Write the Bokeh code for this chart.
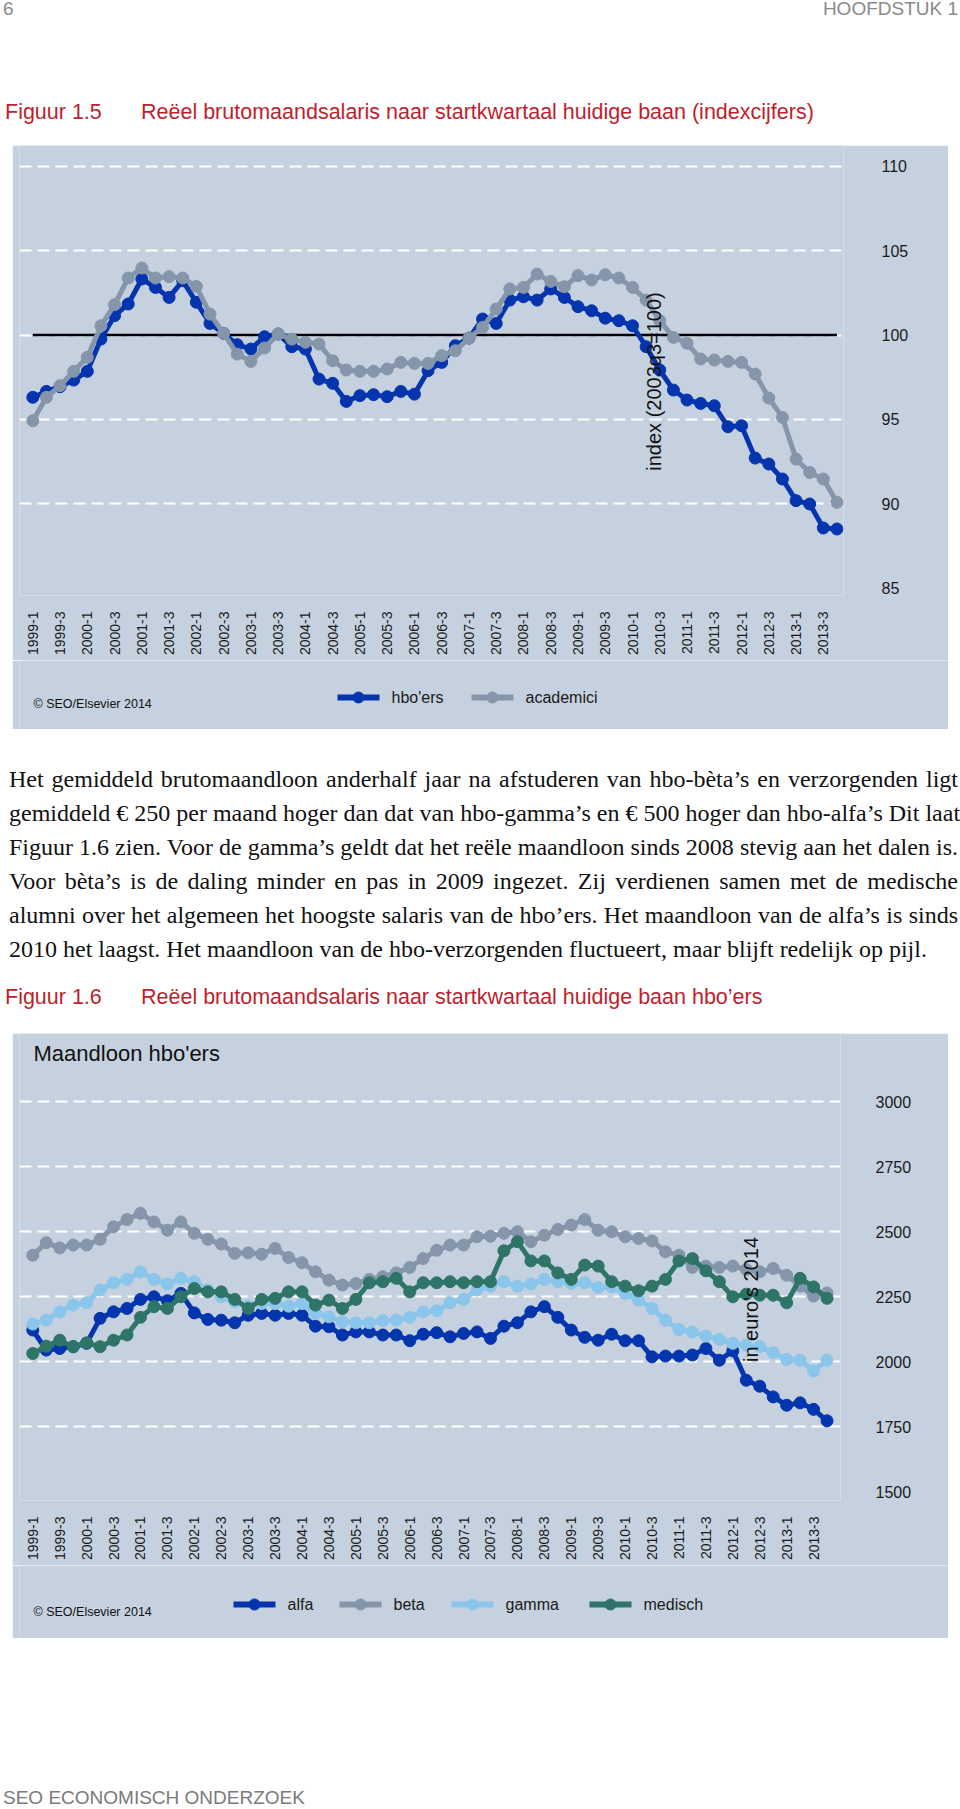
import math
from bokeh.plotting import figure
from bokeh.models import Range1d, FixedTicker, Label, Div
from bokeh.core.properties import value
from bokeh.layouts import column
from bokeh.embed import file_html
from bokeh.resources import INLINE

# ---------------- data ----------------
quarter_index = list(range(60))          # 1999-1 ... 2013-4
tick_positions = list(range(0, 60, 2))
tick_labels = ["1999-1", "1999-3", "2000-1", "2000-3", "2001-1", "2001-3", "2002-1", "2002-3",
               "2003-1", "2003-3", "2004-1", "2004-3", "2005-1", "2005-3", "2006-1", "2006-3",
               "2007-1", "2007-3", "2008-1", "2008-3", "2009-1", "2009-3", "2010-1", "2010-3",
               "2011-1", "2011-3", "2012-1", "2012-3", "2013-1", "2013-3"]

index_ticks = [85, 90, 95, 100, 105, 110]
index_grid = [90, 95, 100, 105, 110]
euro_ticks = [1500, 1750, 2000, 2250, 2500, 2750, 3000]
euro_grid = [1750, 2000, 2250, 2500, 2750, 3000]

reference_x = [0, 59]
reference_level = [100, 100]

hbo = [96.31, 96.66, 96.94, 97.33, 97.85, 99.76, 101.15, 101.84, 103.32, 102.82,
       102.23, 103.22, 101.94, 100.69, 100.10, 99.43, 99.17, 99.90, 100.06, 99.31,
       99.17, 97.39, 97.14, 96.07, 96.41, 96.47, 96.35, 96.66, 96.50, 97.89,
       98.38, 99.37, 99.82, 100.95, 100.69, 102.07, 102.27, 102.07, 102.73, 102.23,
       101.68, 101.44, 101.00, 100.85, 100.55, 99.31, 97.93, 96.74, 96.15, 95.95,
       95.81, 94.57, 94.63, 92.71, 92.36, 91.47, 90.19, 89.99, 88.57, 88.51]
academici = [94.92, 96.31, 97.00, 97.85, 98.68, 100.55, 101.80, 103.38, 103.97, 103.38,
             103.46, 103.38, 102.88, 101.24, 100.10, 98.87, 98.44, 99.23, 100.06, 99.76,
             99.57, 99.47, 98.48, 97.93, 97.85, 97.85, 97.99, 98.38, 98.32, 98.32,
             98.78, 99.07, 99.82, 100.45, 101.54, 102.73, 102.82, 103.61, 103.18, 102.86,
             103.52, 103.26, 103.57, 103.38, 102.82, 102.07, 100.85, 99.86, 99.51, 98.58,
             98.52, 98.44, 98.38, 97.69, 96.27, 95.12, 92.65, 91.86, 91.47, 90.09]

alfa = [2122, 2045, 2051, 2058, 2071, 2167, 2192, 2205, 2240, 2250,
        2235, 2263, 2188, 2163, 2160, 2150, 2179, 2186, 2179, 2186,
        2179, 2137, 2135, 2103, 2115, 2115, 2103, 2103, 2081, 2106,
        2112, 2096, 2109, 2115, 2090, 2137, 2150, 2192, 2212, 2171,
        2122, 2094, 2083, 2106, 2081, 2081, 2019, 2022, 2022, 2026,
        2051, 2006, 2042, 1929, 1906, 1865, 1833, 1842, 1817, 1773]
beta = [2410, 2458, 2438, 2449, 2449, 2471, 2519, 2547, 2571, 2538,
        2506, 2538, 2494, 2471, 2453, 2417, 2419, 2414, 2436, 2401,
        2381, 2346, 2314, 2295, 2301, 2317, 2327, 2342, 2363, 2397,
        2429, 2449, 2449, 2481, 2483, 2494, 2500, 2462, 2487, 2509,
        2526, 2547, 2506, 2500, 2481, 2474, 2465, 2423, 2410, 2363,
        2368, 2363, 2368, 2355, 2346, 2359, 2333, 2291, 2253, 2265]
gamma = [2145, 2160, 2192, 2218, 2227, 2276, 2304, 2317, 2346, 2317,
         2299, 2321, 2308, 2276, 2250, 2231, 2214, 2224, 2224, 2214,
         2224, 2186, 2173, 2154, 2150, 2150, 2158, 2160, 2171, 2192,
         2196, 2227, 2240, 2276, 2291, 2308, 2291, 2299, 2317, 2308,
         2301, 2304, 2286, 2288, 2263, 2237, 2205, 2160, 2124, 2115,
         2099, 2086, 2071, 2064, 2058, 2035, 2009, 2006, 1965, 2006]
medisch = [2032, 2060, 2083, 2058, 2073, 2058, 2083, 2103, 2171, 2212,
           2205, 2250, 2282, 2269, 2269, 2240, 2205, 2240, 2244, 2269,
           2269, 2218, 2237, 2205, 2240, 2304, 2308, 2321, 2269, 2304,
           2304, 2308, 2304, 2308, 2308, 2427, 2462, 2388, 2388, 2342,
           2317, 2372, 2368, 2308, 2291, 2273, 2291, 2317, 2388, 2397,
           2350, 2308, 2250, 2260, 2256, 2256, 2227, 2321, 2288, 2244]

legend1_names = ["hbo'ers", "academici"]
legend2_names = ["alfa", "beta", "gamma", "medisch"]

# ---------------- styles / layout ----------------
PANEL = "#C5D1DE"
DARK_BLUE = "#0535AE"
GREY_BLUE = "#8596AB"
LIGHT_BLUE = "#8AC5EB"
GREEN = "#2E7467"
RED = "#BE1E2D"
SANS = "Liberation Sans"
PANEL_W = 936
KEY_W = 42          # legend key length (px)
KEY_GAP = 12        # key -> label gap (px)
LEGEND1_START = [318, 452]            # key left edges inside strip (px)
LEGEND2_START = [214, 320, 432, 570]


def make_chart(frame_w, frame_h, xr, yr, border_right, border_bottom,
               yticks, gridticks, standoff):
    p = figure(frame_width=frame_w, frame_height=frame_h,
               x_range=Range1d(*xr), y_range=Range1d(*yr),
               y_axis_location="right", title=None,
               output_backend="svg", toolbar_location=None,
               min_border_left=7, min_border_right=border_right,
               min_border_top=0, min_border_bottom=border_bottom,
               background_fill_color=PANEL, border_fill_color=PANEL,
               outline_line_color=None, margin=(0, 0, 0, 12))
    p.xgrid.visible = False
    p.ygrid.ticker = FixedTicker(ticks=gridticks)
    p.ygrid.grid_line_color = "white"
    p.ygrid.grid_line_width = 2
    p.ygrid.grid_line_dash = "12 6"

    ya = p.yaxis[0]
    ya.ticker = FixedTicker(ticks=yticks)
    ya.axis_line_color = None
    ya.major_tick_line_color = None
    ya.minor_tick_line_color = None
    ya.major_label_standoff = standoff
    ya.major_label_text_font = SANS
    ya.major_label_text_font_size = "16px"
    ya.major_label_text_color = "#1a1a1a"

    xa = p.xaxis[0]
    xa.ticker = FixedTicker(ticks=tick_positions)
    xa.major_label_overrides = {pos: lab for pos, lab in zip(tick_positions, tick_labels)}
    xa.major_label_orientation = math.pi / 2
    xa.axis_line_color = None
    xa.major_tick_line_color = None
    xa.minor_tick_line_color = None
    xa.major_label_standoff = 10
    xa.major_label_text_font = SANS
    xa.major_label_text_font_size = "14px"
    xa.major_label_text_color = "#1a1a1a"
    return p


def add_series(p, ys, color):
    p.line(quarter_index, ys, line_width=5, line_color=color)
    p.scatter(quarter_index, ys, size=12, marker="circle", fill_color=color, line_color=color)


def add_text(p, x, y, text, size, angle=0.0, align="left"):
    p.add_layout(Label(x=x, y=y, x_units="screen", y_units="screen", text=text,
                       angle=angle, text_align=align, text_baseline="middle",
                       text_font=SANS, text_font_size=size, text_color="#111111"))


def make_legend_strip(height, names, colors, starts, key_y, copyright_y):
    # strip below the chart: one data unit = one pixel
    s = figure(frame_width=PANEL_W, frame_height=height,
               x_range=Range1d(0, PANEL_W), y_range=Range1d(0, height),
               x_axis_location=None, y_axis_location=None, title=None,
               output_backend="svg", toolbar_location=None, min_border=0,
               background_fill_color=PANEL, border_fill_color=PANEL,
               outline_line_color=None, margin=(0, 0, 0, 12))
    s.grid.visible = False
    x0 = list(starts)
    x1 = [x + KEY_W for x in starts]
    xc = [x + KEY_W / 2 for x in starts]
    xt = [x + KEY_W + KEY_GAP for x in starts]
    ys = [key_y] * len(starts)
    s.segment(x0=x0, y0=ys, x1=x1, y1=ys, line_width=6, line_color=colors)
    s.scatter(x=xc, y=ys, size=11, marker="circle", fill_color=colors, line_color=colors)
    s.text(x=xt, y=ys, text=names, text_baseline="middle", text_align="left",
           text_font=value(SANS), text_font_size=value("16px"), text_color="#1a1a1a")
    add_text(s, 14, copyright_y, "© SEO/Elsevier 2014", "12.5px")
    return s


# ---------------- chart 1 ----------------
p1 = make_chart(824, 450, (-0.976, 59.48), (84.57, 111.23), 105, 65,
                index_ticks, index_grid, 32)
p1.line(reference_x, reference_level, line_width=2.5, line_color="black")
add_series(p1, hbo, DARK_BLUE)
add_series(p1, academici, GREY_BLUE)
add_text(p1, 634, 214, "index (2003q3=100)", "20px", angle=math.pi / 2, align="center")
s1 = make_legend_strip(69, legend1_names, [DARK_BLUE, GREY_BLUE], LEGEND1_START, 32, 26)

# ---------------- chart 2 ----------------
p2 = make_chart(821, 467, (-0.988, 60.0), (1466.5, 3262.7), 108, 65,
                euro_ticks, euro_grid, 29)
add_series(p2, alfa, DARK_BLUE)
add_series(p2, beta, GREY_BLUE)
add_series(p2, gamma, LIGHT_BLUE)
add_series(p2, medisch, GREEN)
add_text(p2, 731.7, 201, "in euro's 2014", "20px", angle=math.pi / 2, align="center")
add_text(p2, 14, 447, "Maandloon hbo'ers", "22px")
s2 = make_legend_strip(73, legend2_names, [DARK_BLUE, GREY_BLUE, LIGHT_BLUE, GREEN],
                       LEGEND2_START, 34, 27)

# ---------------- text blocks ----------------
SANS_CSS = "font-family:'Liberation Sans',Arial,sans-serif;"
header_html = (
    f'<div style="position:relative;width:958px;height:145px;{SANS_CSS}">'
    '<div style="position:absolute;left:3px;top:0px;font-size:19px;line-height:18px;color:#8a8a8a;">6</div>'
    '<div style="position:absolute;right:0px;top:0px;font-size:19px;line-height:18px;color:#8a8a8a;white-space:nowrap;">HOOFDSTUK 1</div>'
    f'<div style="position:absolute;left:5px;top:102px;font-size:21.5px;line-height:20px;color:{RED};white-space:nowrap;">Figuur 1.5</div>'
    f'<div style="position:absolute;left:141px;top:102px;font-size:21.5px;line-height:20px;color:{RED};white-space:nowrap;">'
    'Reëel brutomaandsalaris naar startkwartaal huidige baan (indexcijfers)</div>'
    '</div>'
)
div1 = Div(text=header_html, width=958, height=145, margin=0)

para_lines = [
    "Het gemiddeld brutomaandloon anderhalf jaar na afstuderen van hbo-bèta’s en verzorgenden ligt",
    "gemiddeld € 250 per maand hoger dan dat van hbo-gamma’s en € 500 hoger dan hbo-alfa’s Dit laat",
    "Figuur 1.6 zien. Voor de gamma’s geldt dat het reële maandloon sinds 2008 stevig aan het dalen is.",
    "Voor bèta’s is de daling minder en pas in 2009 ingezet. Zij verdienen samen met de medische",
    "alumni over het algemeen het hoogste salaris van de hbo’ers. Het maandloon van de alfa’s is sinds",
    "2010 het laagst. Het maandloon van de hbo-verzorgenden fluctueert, maar blijft redelijk op pijl.",
]
line_html = ""
for k, ln in enumerate(para_lines):
    last = k == len(para_lines) - 1
    align = "left" if last else "justify"
    line_html += (f'<div style="width:949px;height:34px;line-height:34px;white-space:nowrap;'
                  f'text-align:{align};text-align-last:{align};">{ln}</div>')
para_html = (
    '<div style="position:relative;width:958px;height:304px;">'
    '<div style="position:absolute;left:9px;top:33px;font-family:\'Liberation Serif\',serif;'
    f'font-size:24px;color:#111;">{line_html}</div>'
    f'<div style="position:absolute;left:5px;top:258px;font-size:21.5px;line-height:20px;color:{RED};white-space:nowrap;{SANS_CSS}">Figuur 1.6</div>'
    f'<div style="position:absolute;left:141px;top:258px;font-size:21.5px;line-height:20px;color:{RED};white-space:nowrap;{SANS_CSS}">'
    'Reëel brutomaandsalaris naar startkwartaal huidige baan hbo’ers</div>'
    '</div>'
)
div2 = Div(text=para_html, width=958, height=304, margin=0)

footer_html = (
    f'<div style="position:relative;width:958px;height:152px;{SANS_CSS}">'
    '<div style="position:absolute;left:3px;top:151px;font-size:19px;line-height:18px;color:#7a7a7a;white-space:nowrap;">'
    'SEO ECONOMISCH ONDERZOEK</div></div>'
)
div3 = Div(text=footer_html, width=958, height=152, margin=0)

page = column(div1, p1, s1, div2, p2, s2, div3, spacing=0)

open("out.html", "w").write(file_html(page, INLINE))
